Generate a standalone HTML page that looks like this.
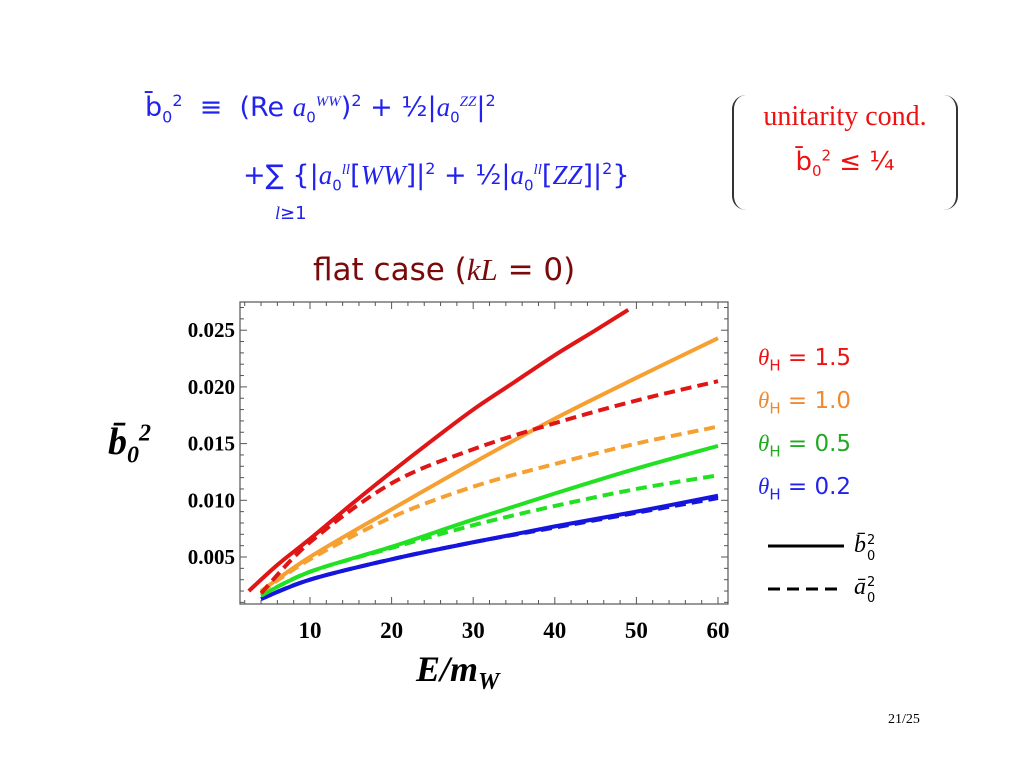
<!DOCTYPE html>
<html><head><meta charset="utf-8"><style>
body{margin:0;width:1024px;height:768px;background:#fff;overflow:hidden;position:relative;font-family:"DejaVu Sans","Liberation Sans",sans-serif}
.t{position:absolute;white-space:nowrap}
.m{font-family:"Liberation Serif",serif;font-style:italic}
.blue{color:#2222ee}.red{color:#ee1111}
sub,sup{line-height:0}
</style></head><body>
<div class="t blue" style="left:145px;top:92px;font-size:27px">b̄<sub style="font-size:16px">0</sub><sup style="font-size:16px">2</sup> &nbsp;≡&nbsp; (Re <span class="m">a</span><sub style="font-size:15px">0</sub><sup class="m" style="font-size:15px">WW</sup>)<sup style="font-size:16px">2</sup> + ½|<span class="m">a</span><sub style="font-size:15px">0</sub><sup class="m" style="font-size:15px">ZZ</sup>|<sup style="font-size:16px">2</sup></div>
<div class="t blue" style="left:243px;top:160px;font-size:27px">+∑ {|<span class="m">a</span><sub style="font-size:15px">0</sub><sup class="m" style="font-size:15px">ll</sup>[<span class="m">WW</span>]|<sup style="font-size:16px">2</sup> + ½|<span class="m">a</span><sub style="font-size:15px">0</sub><sup class="m" style="font-size:15px">ll</sup>[<span class="m">ZZ</span>]|<sup style="font-size:16px">2</sup>}</div>
<div class="t blue" style="left:275px;top:203px;font-size:18px"><span class="m">l</span>≥1</div>
<div class="t red" style="left:732px;top:95px;width:222px;height:115px;border-left:2px solid #333;border-right:2px solid #333;border-radius:14px;text-align:center">
<div style="font-family:'Liberation Serif',serif;font-size:28px;margin-top:6px">unitarity cond.</div>
<div style="font-size:26px;margin-top:14px">b̄<sub style="font-size:15px">0</sub><sup style="font-size:15px">2</sup> ≤ ¼</div></div>
<div class="t" style="left:313px;top:252px;font-size:31px;color:#7a0a0a">flat case (<span class="m">kL</span> = 0)</div>
<div class="t m" style="left:108px;top:420px;font-size:38px;font-weight:bold">b̄<sub style="font-size:24px">0</sub><sup style="font-size:24px">2</sup></div>
<div class="t m" style="left:416px;top:648px;font-size:36px;font-weight:bold">E/m<sub style="font-size:24px">W</sub></div>
<div class="t" style="left:758px;top:345px;font-size:23px;color:#ee1111"><span class="m">θ</span><sub style="font-size:15px">H</sub> = 1.5</div>
<div class="t" style="left:758px;top:388px;font-size:23px;color:#f08a30"><span class="m">θ</span><sub style="font-size:15px">H</sub> = 1.0</div>
<div class="t" style="left:758px;top:431px;font-size:23px;color:#22aa22"><span class="m">θ</span><sub style="font-size:15px">H</sub> = 0.5</div>
<div class="t" style="left:758px;top:474px;font-size:23px;color:#2222ee"><span class="m">θ</span><sub style="font-size:15px">H</sub> = 0.2</div>
<svg class="t" style="left:760px;top:530px" width="120" height="80">
<line x1="8" y1="16" x2="84" y2="16" stroke="#000" stroke-width="3"/>
<line x1="8" y1="59" x2="84" y2="59" stroke="#000" stroke-width="3" stroke-dasharray="12,7"/>
<text x="94" y="22" font-family="Liberation Serif" font-style="italic" font-size="24">b̄</text><text x="107" y="14" font-size="13" font-family="DejaVu Sans">2</text><text x="107" y="30" font-size="13" font-family="DejaVu Sans">0</text>
<text x="94" y="64" font-family="Liberation Serif" font-style="italic" font-size="24">ā</text><text x="107" y="56" font-size="13" font-family="DejaVu Sans">2</text><text x="107" y="72" font-size="13" font-family="DejaVu Sans">0</text>
</svg>
<svg id="chart" class="t" style="left:0;top:0" width="1024" height="768"></svg>
<div class="t" style="left:888px;top:712px;font-family:'Liberation Serif',serif;font-size:14px">21/25</div>
<script>
const xs=[4,10,20,30,40,50,60];
const redSolidX=[2.5,6,10,15,20,25,30,35,40,45,49];
const redSolid=[0.002,0.0043,0.0066,0.0096,0.0125,0.0153,0.018,0.0204,0.0228,0.025,0.0268];
const redDash=[0.0018,0.0063,0.0115,0.0145,0.0168,0.0188,0.0205];
const orSolid=[0.002,0.005,0.0092,0.0133,0.0172,0.0208,0.0243];
const orDash=[0.0019,0.0048,0.0085,0.0112,0.0132,0.015,0.0165];
const grSolid=[0.0016,0.0037,0.0059,0.0083,0.0106,0.0128,0.0148];
const grDash=[0.0016,0.0037,0.0058,0.0078,0.0095,0.011,0.0122];
const blSolid=[0.0013,0.003,0.0048,0.0063,0.0077,0.009,0.0104];
const blDash=[0.0013,0.003,0.0048,0.0063,0.0076,0.0089,0.0102];
const xTicks=[10,20,30,40,50,60];
const yTicks=[0.005,0.010,0.015,0.020,0.025];
const yLabels=["0.005","0.010","0.015","0.020","0.025"];
const L=240,R=728,T=302,B=604;
const X=v=>310+(v-10)*8.16, Y=v=>557-(v-0.005)*11340;
const svg=document.getElementById('chart'),NS='http://www.w3.org/2000/svg';
function mk(t,a){const e=document.createElementNS(NS,t);for(const k in a)e.setAttribute(k,a[k]);svg.appendChild(e);return e;}
const fr=mk('rect',{x:L,y:T,width:R-L,height:B-T,fill:'none',stroke:'#555','stroke-width':1.2});


for(let v=2;v<=60;v+=2){const maj=v%10==0,l=maj?7:4;
mk('line',{x1:X(v),x2:X(v),y1:B,y2:B-l,stroke:'#555'});mk('line',{x1:X(v),x2:X(v),y1:T,y2:T+l,stroke:'#555'});}
for(let v=0.001;v<0.0275;v+=0.001){const maj=Math.abs(v/0.005-Math.round(v/0.005))<1e-6,l=maj?7:4;
mk('line',{x1:L,x2:L+l,y1:Y(v),y2:Y(v),stroke:'#555'});mk('line',{x1:R,x2:R-l,y1:Y(v),y2:Y(v),stroke:'#555'});}
xTicks.forEach(v=>{const t=mk('text',{x:X(v),y:638,'text-anchor':'middle','font-family':'Liberation Serif','font-weight':'bold','font-size':23});t.textContent=v;

});
yTicks.forEach((v,i)=>{const t=mk('text',{x:235,y:Y(v)+7,'text-anchor':'end','font-family':'Liberation Serif','font-weight':'bold','font-size':21});t.textContent=yLabels[i];

});
function line(xa,ya,col,dash,name){
const p=xa.map((x,i)=>[X(x),Y(ya[i])]);let d='M'+p[0].join(',');
for(let i=0;i<p.length-1;i++){const p0=p[i-1]||p[i],p1=p[i],p2=p[i+1],p3=p[i+2]||p2;
d+=` C${p1[0]+(p2[0]-p0[0])/6},${p1[1]+(p2[1]-p0[1])/6} ${p2[0]-(p3[0]-p1[0])/6},${p2[1]-(p3[1]-p1[1])/6} ${p2[0]},${p2[1]}`;}
const e=mk('path',{d:d,fill:'none',stroke:col,'stroke-width':4,'stroke-dasharray':dash?'11,6':'none'});

}
line(xs,blDash,'#1515dd',true,'line-0.2-a0');
line(xs,blSolid,'#1515dd',false,'line-0.2-b0');
line(xs,grDash,'#22e022',true,'line-0.5-a0');
line(xs,grSolid,'#22e022',false,'line-0.5-b0');
line(xs,orDash,'#f5a030',true,'line-1.0-a0');
line(xs,orSolid,'#f5a030',false,'line-1.0-b0');
line(xs,redDash,'#e01515',true,'line-1.5-a0');
line(redSolidX,redSolid,'#e01515',false,'line-1.5-b0');
</script>
</body></html>
